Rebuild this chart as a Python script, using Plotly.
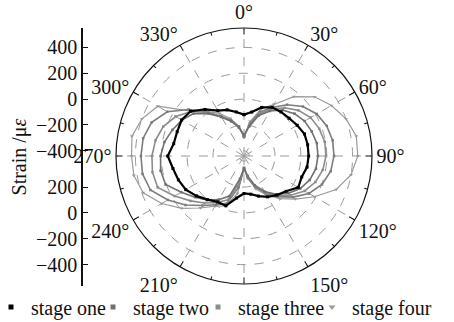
import plotly.graph_objects as go

# ---------------- data (strain in µε, angle in degrees) ----------------
theta = [0, 10, 20, 30, 40, 50, 60, 70, 80, 90, 100, 110, 120, 130, 140, 150, 160, 170,
         180, 190, 200, 210, 220, 230, 240, 250, 260, 270, 280, 290, 300, 310, 320, 330,
         340, 350, 360]

stage_one = [-120, -95, -40, -5, 5, 15, 35, 58, 60, 60, 55, 35, 45, -15, -45, -75, -110, -140,
             -150, -110, -30, -30, 0, 40, 80, 100, 118, 150, 112, 110, 117, 99, 30, -35,
             -60, -94, -120]

stage_two = [-278, -208, -107, -38, 24, 70, 101, 117, 132, 132, 125, 101, 63, 9, -53, -123, -200, -285,
             -347, -262, -110, -50, 5, 55, 120, 205, 215, 205, 185, 150, 115, 70, -12, -92,
             -154, -216, -278]

stage_three = [-285, -200, -92, -22, 47, 109, 155, 179, 194, 194, 179, 148, 101, 32, -38, -115, -193, -278,
               -347, -231, -80, -25, 35, 100, 180, 270, 279, 272, 255, 225, 170, 95, 0, -92,
               -154, -216, -285]

stage_three_b = [-293, -185, -77, -7, 78, 155, 210, 241, 256, 256, 241, 202, 140, 55, -30, -107, -185, -270,
                 -347, -193, -50, -5, 60, 150, 240, 330, 357, 357, 352, 320, 245, 120, 5, -84,
                 -146, -208, -293]

stage_four = [-293, -169, -53, 20, 160, 272, 341, 400, 442, 440, 400, 318, 190, 78, -10, -92, -169, -262,
              -339, -146, -30, 7, 85, 190, 295, 390, 425, 430, 440, 400, 330, 100, 10, -60,
              -131, -208, -293]

radial_ticks = [-400, -200, 0, 200, 400]
angle_ticks = [0, 30, 60, 90, 120, 150, 180, 210, 240, 270, 300, 330]
angle_labels = ["0°", "30°", "60°", "90°", "120°", "150°", "", "210°", "240°", "270°", "300°", "330°"]
minor_angle_ticks = [15, 45, 75, 105, 135, 165, 195, 225, 255, 285, 315, 345]

# left strain scale (upper and lower half, mirrored about the pole)
left_top_labels = [400, 200, 0, -200, -400]
left_bottom_labels = [200, 0, -200, -400]

R_MIN, R_MAX = -440, 550

FONT = "Liberation Serif"
FS = 20
W, H = 454, 322
cx, cy, rad = 244, 156, 128

fig = go.Figure()

series = [
    ("stage one", stage_one, "#000000", 2.2, "square", 3, "g1", True),
    ("stage two", stage_two, "#707070", 1.6, "square", 2.5, "g2", True),
    ("stage three", stage_three, "#8c8c8c", 1.6, "square", 2.5, "g3", True),
    ("stage three", stage_three_b, "#7c7c7c", 1.6, "square", 2.5, "g3", False),
    ("stage four", stage_four, "#9a9a9a", 1.2, "triangle-down", 3.5, "g4", True),
]

for name, vals, col, lw, sym, ms, grp, _ in series[::-1]:
    fig.add_trace(go.Scatterpolar(
        r=vals, theta=theta, mode="lines+markers", name=name,
        line=dict(color=col, width=lw), marker=dict(symbol=sym, size=ms, color=col),
        legendgroup=grp, showlegend=False, hoverinfo="skip"))

# legend entries (marker only, as in the reference)
legend_ids = ["legend", "legend2", "legend3", "legend4"]
legend_x = [-9, 93, 198, 312]
leg_items = [s for s in series if s[7]]
for (name, vals, col, lw, sym, ms, grp, _), lid in zip(leg_items, legend_ids):
    fig.add_trace(go.Scatterpolar(
        r=[None], theta=[None], mode="markers", name=name,
        marker=dict(symbol=sym, size=5 if sym != "triangle-down" else 6, color=col),
        legendgroup=grp, legend=lid, showlegend=True, hoverinfo="skip"))

# minor angular ticks on an overlaid polar
fig.add_trace(go.Scatterpolar(r=[], theta=[], subplot="polar2", showlegend=False, hoverinfo="skip"))

# left strain axis
fig.add_trace(go.Scatter(x=[], y=[], showlegend=False, hoverinfo="skip"))

px_per_unit = rad / (R_MAX - R_MIN)
top_vals = [v - R_MIN for v in left_top_labels]
bot_vals = [v + R_MIN for v in left_bottom_labels]
tick_vals = top_vals + bot_vals
fmt = lambda v: ("\u2212" + str(-v)) if v < 0 else str(v)
tick_text = [fmt(v) for v in left_top_labels + left_bottom_labels]

y_top_px, y_bot_px = 28, 286
u_top = (cy - y_top_px) / px_per_unit
u_bot = -(y_bot_px - cy) / px_per_unit

dom_x = [(cx - rad) / W, (cx + rad) / W]
dom_y = [1 - (cy + rad) / H, 1 - (cy - rad) / H]

polar_common = dict(domain=dict(x=dom_x, y=dom_y), bgcolor="rgba(0,0,0,0)")

legends = {}
for lid, lx in zip(legend_ids, legend_x):
    legends[lid] = dict(x=lx / W, y=1 - 307 / H, xanchor="left", yanchor="middle",
                        orientation="h", font=dict(family=FONT, size=FS, color="#111"),
                        bgcolor="rgba(0,0,0,0)", itemwidth=30, borderwidth=0)

fig.update_layout(
    width=W, height=H, margin=dict(l=0, r=0, t=0, b=0, autoexpand=False),
    paper_bgcolor="white", plot_bgcolor="white",
    font=dict(family=FONT, size=FS, color="#111"),
    polar=dict(
        **polar_common,
        angularaxis=dict(rotation=90, direction="clockwise", tickmode="array",
                         tickvals=angle_ticks, ticktext=angle_labels,
                         ticks="inside", ticklen=6, tickcolor="#111", tickwidth=1,
                         showline=True, linecolor="#111", linewidth=1.2,
                         showgrid=True, gridcolor="#9a9a9a", gridwidth=1, griddash="dash",
                         tickfont=dict(family=FONT, size=FS, color="#111")),
        radialaxis=dict(range=[R_MIN, R_MAX], tickmode="array", tickvals=radial_ticks,
                        showticklabels=False, ticks="", showline=False,
                        showgrid=True, gridcolor="#9a9a9a", gridwidth=1, griddash="dash"),
    ),
    polar2=dict(
        **polar_common,
        angularaxis=dict(rotation=90, direction="clockwise", tickmode="array",
                         tickvals=minor_angle_ticks, ticks="inside", ticklen=3,
                         tickcolor="#111", showticklabels=False, showline=False,
                         showgrid=False),
        radialaxis=dict(visible=False, range=[R_MIN, R_MAX]),
    ),
    xaxis=dict(domain=[83 / W, 100 / W], visible=False),
    yaxis=dict(domain=[1 - y_bot_px / H, 1 - y_top_px / H], range=[u_bot, u_top],
               tickmode="array", tickvals=tick_vals, ticktext=tick_text,
               ticks="inside", ticklen=5, tickwidth=1.2, tickcolor="#111",
               showline=True, linecolor="#111", linewidth=1.5, showgrid=False,
               zeroline=False, anchor="x", side="left",
               tickfont=dict(family=FONT, size=FS, color="#111"),
               title=dict(text="Strain /\u03bc<i>\u03b5</i>", standoff=4,
                          font=dict(family=FONT, size=FS, color="#111"))),
    **legends,
)

fig.write_html("out.html", config={"displayModeBar": False},
               post_script="document.body.style.margin='0';")
